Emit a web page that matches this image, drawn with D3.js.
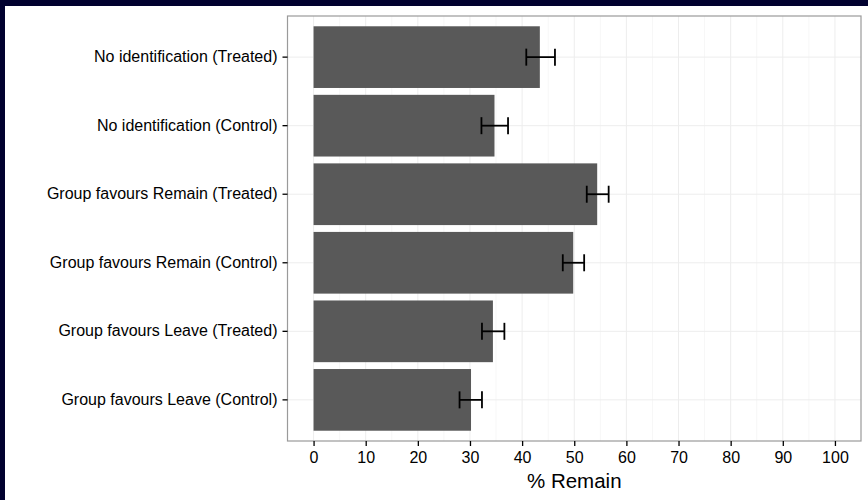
<!DOCTYPE html>
<html>
<head>
<meta charset="utf-8">
<script src="https://cdnjs.cloudflare.com/ajax/libs/d3/7.8.5/d3.min.js"></script>
<style>
  html, body { margin: 0; padding: 0; overflow: hidden; background: #fff; }
  svg { display: block; }
  text { font-family: "Liberation Sans", Arial, sans-serif; fill: #000; }
</style>
</head>
<body>
<div class="visHolder"></div>
<script>
var categories = [
  'No identification (Treated)',
  'No identification (Control)',
  'Group favours Remain (Treated)',
  'Group favours Remain (Control)',
  'Group favours Leave (Treated)',
  'Group favours Leave (Control)'
];
var remain = [43.4, 34.7, 54.4, 49.8, 34.4, 30.2];
var errLow = [40.8, 32.2, 52.4, 47.8, 32.3, 28.0];
var errHigh = [46.3, 37.3, 56.6, 51.9, 36.6, 32.3];
var xTicks = [0, 10, 20, 30, 40, 50, 60, 70, 80, 90, 100];
var xMinor = [5, 15, 25, 35, 45, 55, 65, 75, 85, 95];

var width = 868, height = 500;
var panelLeft = 287.5, panelRight = 861, panelTop = 16, panelBottom = 441;

var svg = d3.select('.visHolder').append('svg')
  .attr('width', width)
  .attr('height', height);

// dark edge at top and left
svg.append('rect')
  .attr('x', 0).attr('y', 0)
  .attr('width', width).attr('height', 6)
  .attr('fill', '#01012f');
svg.append('rect')
  .attr('x', 0).attr('y', 0)
  .attr('width', 5).attr('height', height)
  .attr('fill', '#01012f');

var xScale = d3.scaleLinear()
  .domain([-5, 105])
  .range([panelLeft, panelRight]);

var yScale = d3.scaleBand()
  .domain(categories)
  .range([panelTop, panelBottom])
  .paddingInner(0.1)
  .paddingOuter(0.15);

// grid
svg.append('g').selectAll('line')
  .data(xMinor)
  .enter()
  .append('line')
  .attr('x1', function(d) { return xScale(d); })
  .attr('x2', function(d) { return xScale(d); })
  .attr('y1', panelTop).attr('y2', panelBottom)
  .attr('stroke', '#f7f7f7')
  .attr('stroke-width', 1);

svg.append('g').selectAll('line')
  .data(xTicks)
  .enter()
  .append('line')
  .attr('x1', function(d) { return xScale(d); })
  .attr('x2', function(d) { return xScale(d); })
  .attr('y1', panelTop).attr('y2', panelBottom)
  .attr('stroke', '#ededed')
  .attr('stroke-width', 1);

svg.append('g').selectAll('line')
  .data(categories)
  .enter()
  .append('line')
  .attr('x1', panelLeft).attr('x2', panelRight)
  .attr('y1', function(d) { return yScale(d) + yScale.bandwidth() / 2; })
  .attr('y2', function(d) { return yScale(d) + yScale.bandwidth() / 2; })
  .attr('stroke', '#ededed')
  .attr('stroke-width', 1);

// bars
svg.append('g').selectAll('rect')
  .data(remain)
  .enter()
  .append('rect')
  .attr('class', 'bar')
  .attr('x', xScale(0))
  .attr('y', function(d, i) { return yScale(categories[i]); })
  .attr('width', function(d) { return xScale(d) - xScale(0); })
  .attr('height', yScale.bandwidth())
  .attr('fill', '#595959');

// error bars
var capHalf = 8.5;
var errs = svg.append('g').selectAll('g')
  .data(categories)
  .enter()
  .append('g');

errs.append('line')
  .attr('x1', function(d, i) { return xScale(errLow[i]); })
  .attr('x2', function(d, i) { return xScale(errHigh[i]); })
  .attr('y1', function(d) { return yScale(d) + yScale.bandwidth() / 2; })
  .attr('y2', function(d) { return yScale(d) + yScale.bandwidth() / 2; })
  .attr('stroke', '#000').attr('stroke-width', 1.8);

errs.append('line')
  .attr('x1', function(d, i) { return xScale(errLow[i]); })
  .attr('x2', function(d, i) { return xScale(errLow[i]); })
  .attr('y1', function(d) { return yScale(d) + yScale.bandwidth() / 2 - capHalf; })
  .attr('y2', function(d) { return yScale(d) + yScale.bandwidth() / 2 + capHalf; })
  .attr('stroke', '#000').attr('stroke-width', 1.8);

errs.append('line')
  .attr('x1', function(d, i) { return xScale(errHigh[i]); })
  .attr('x2', function(d, i) { return xScale(errHigh[i]); })
  .attr('y1', function(d) { return yScale(d) + yScale.bandwidth() / 2 - capHalf; })
  .attr('y2', function(d) { return yScale(d) + yScale.bandwidth() / 2 + capHalf; })
  .attr('stroke', '#000').attr('stroke-width', 1.8);

// panel border
svg.append('rect')
  .attr('x', panelLeft).attr('y', panelTop)
  .attr('width', panelRight - panelLeft)
  .attr('height', panelBottom - panelTop)
  .attr('fill', 'none')
  .attr('stroke', '#9a9a9a')
  .attr('stroke-width', 1.2);

// axes
var xAxis = d3.axisBottom(xScale)
  .tickValues(xTicks)
  .tickSize(5)
  .tickPadding(6);

var xAxisGroup = svg.append('g')
  .attr('id', 'x-axis')
  .attr('transform', 'translate(0,' + panelBottom + ')')
  .call(xAxis);

var yAxis = d3.axisLeft(yScale)
  .tickSize(5)
  .tickPadding(5);

var yAxisGroup = svg.append('g')
  .attr('id', 'y-axis')
  .attr('transform', 'translate(' + panelLeft + ',0)')
  .call(yAxis);

svg.selectAll('.domain').remove();
svg.selectAll('.tick line').attr('stroke', '#000').attr('stroke-width', 1.3);
xAxisGroup.attr('font-size', 16).attr('font-family', '"Liberation Sans", Arial, sans-serif');
yAxisGroup.attr('font-size', 16).attr('font-family', '"Liberation Sans", Arial, sans-serif');
svg.selectAll('.tick text').attr('fill', '#000');

svg.append('text')
  .attr('x', xScale(50))
  .attr('y', 488)
  .attr('text-anchor', 'middle')
  .attr('font-size', 20.5)
  .text('% Remain');
</script>
</body>
</html>
